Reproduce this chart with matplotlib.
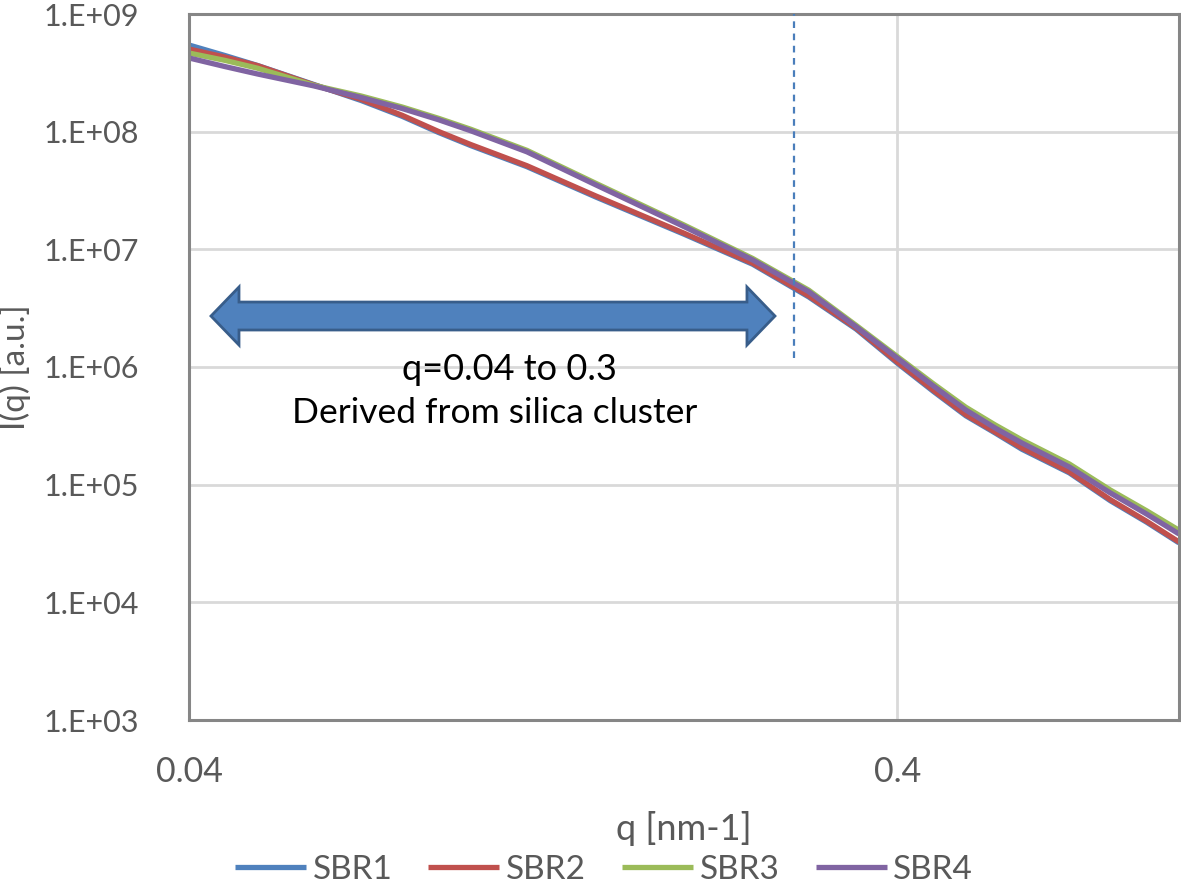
import matplotlib
matplotlib.use("Agg")
import matplotlib.pyplot as plt
from matplotlib.patches import Polygon
from matplotlib.ticker import FixedLocator, NullLocator

plt.rcParams['font.family'] = ['Lato', 'DejaVu Sans']

# ---- data ----
q = [0.040, 0.045, 0.050, 0.060, 0.070, 0.080, 0.090, 0.100, 0.120, 0.150,
     0.200, 0.250, 0.300, 0.350, 0.400, 0.450, 0.500, 0.550, 0.600, 0.700,
     0.800, 0.900, 1.000]

sbr1 = [5.45e8, 4.43e8, 3.65e8, 2.52e8, 1.84e8, 1.35e8, 9.85e7, 7.61e7, 5.04e7, 2.79e7,
        1.345e7, 7.47e6, 3.94e6, 2.10e6, 1.08e6, 6.20e5, 3.85e5, 2.75e5, 2.00e5, 1.26e5,
        7.30e4, 4.80e4, 3.20e4]
sbr2 = [5.04e8, 4.30e8, 3.64e8, 2.50e8, 1.88e8, 1.378e8, 1.005e8, 7.77e7, 5.14e7, 2.85e7,
        1.372e7, 7.62e6, 4.02e6, 2.14e6, 1.103e6, 6.34e5, 3.93e5, 2.80e5, 2.05e5, 1.284e5,
        7.45e4, 4.89e4, 3.26e4]
sbr3 = [4.66e8, 4.03e8, 3.46e8, 2.48e8, 2.01e8, 1.62e8, 1.30e8, 1.048e8, 6.94e7, 3.65e7,
        1.61e7, 8.37e6, 4.50e6, 2.26e6, 1.23e6, 7.20e5, 4.55e5, 3.22e5, 2.40e5, 1.50e5,
        9.00e4, 6.00e4, 4.10e4]
sbr4 = [4.23e8, 3.57e8, 3.09e8, 2.45e8, 1.952e8, 1.573e8, 1.264e8, 1.017e8, 6.74e7, 3.54e7,
        1.561e7, 8.13e6, 4.37e6, 2.20e6, 1.193e6, 6.90e5, 4.31e5, 3.03e5, 2.26e5, 1.414e5,
        8.50e4, 5.63e4, 3.81e4]

series_names = ['SBR1', 'SBR2', 'SBR3', 'SBR4']
series_values = [sbr1, sbr2, sbr3, sbr4]
colors = ['#4F81BD', '#C0504D', '#9BBB59', '#8064A2']

x_ticks = [0.04, 0.4]
x_tick_labels = ['0.04', '0.4']
y_ticks = [1e3, 1e4, 1e5, 1e6, 1e7, 1e8, 1e9]
y_tick_labels = ['1.E+03', '1.E+04', '1.E+05', '1.E+06', '1.E+07', '1.E+08', '1.E+09']

q_cut = 0.286          # dashed marker line
q_cut_bottom = 1.2e6

# ---- figure ----
fig = plt.figure(figsize=(11.81, 8.84), dpi=100)
ax = fig.add_axes([189 / 1181, (884 - 720) / 884, (1179 - 189) / 1181, (720 - 14) / 884])

for name, vals, c in zip(series_names, series_values, colors):
    ax.plot(q, vals, color=c, lw=3.8, label=name, solid_capstyle='butt', solid_joinstyle='round')

ax.set_xscale('log')
ax.set_yscale('log')
ax.set_xlim(0.04, 1.0)
ax.set_ylim(1e3, 1e9)

ax.xaxis.set_major_locator(FixedLocator(x_ticks))
ax.xaxis.set_minor_locator(NullLocator())
ax.set_xticklabels(x_tick_labels)
ax.yaxis.set_major_locator(FixedLocator(y_ticks))
ax.yaxis.set_minor_locator(NullLocator())
ax.set_yticklabels(y_tick_labels)

ax.grid(True, which='major', color='#D9D9D9', lw=2.0)
ax.set_axisbelow(True)
ax.tick_params(axis='both', length=0, labelcolor='#595959')
ax.tick_params(axis='x', pad=26, labelsize=24.5)
ax.tick_params(axis='y', pad=36, labelsize=22)
for s in ax.spines.values():
    s.set_color('#868686')
    s.set_linewidth(2.2)

ax.vlines(q_cut, q_cut_bottom, 1e9, colors='#4A7EBB', linestyles=(0, (3, 2.5)), lw=1.6, zorder=3)

# block double arrow (axes-fraction coordinates)
yc, hh, sh = 0.5722, 0.0411, 0.0198
x0, x1, x2, x3 = 0.0222, 0.0505, 0.5636, 0.5919
arrow = Polygon([(x0, yc), (x1, yc + hh), (x1, yc + sh), (x2, yc + sh), (x2, yc + hh),
                 (x3, yc), (x2, yc - hh), (x2, yc - sh), (x1, yc - sh), (x1, yc - hh)],
                closed=True, transform=ax.transAxes, facecolor='#4F81BD',
                edgecolor='#385D8A', lw=2, zorder=4)
ax.add_patch(arrow)

ax.text((509 - 189) / 990, (720 - 370) / 706, 'q=0.04 to 0.3', transform=ax.transAxes,
        ha='center', va='center', fontsize=26, color='black', zorder=5)
ax.text((495 - 189) / 990, (720 - 413) / 706, 'Derived from silica cluster', transform=ax.transAxes,
        ha='center', va='center', fontsize=25.5, color='black', zorder=5)

fig.text(684 / 1181, 1 - 828 / 884, 'q [nm-1]', ha='center', va='center', fontsize=26, color='#595959')
fig.text(15 / 1181, 1 - 367 / 884, 'I(q) [a.u.]', ha='center', va='center', rotation=90,
         fontsize=24, color='#595959')

fig.legend(loc='center', bbox_to_anchor=(604 / 1181, 1 - 870 / 884), ncol=4, frameon=False,
           fontsize=24, handlelength=2.13, handletextpad=0.2, columnspacing=1.08,
           labelcolor='#595959', borderpad=0.1)

fig.savefig('out.png', dpi=100)
